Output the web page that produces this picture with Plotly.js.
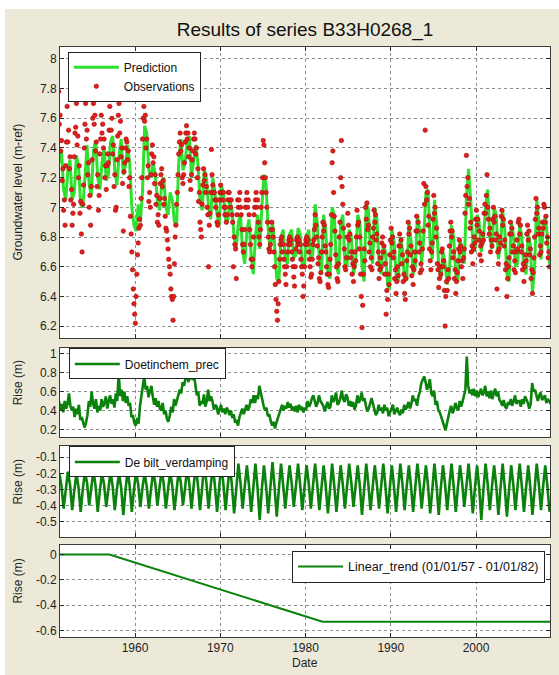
<!DOCTYPE html>
<html>
<head>
<meta charset="utf-8">
<script src="https://cdn.plot.ly/plotly-3.0.1.min.js"></script>
<style>
  html, body { margin: 0; padding: 0; background: #ffffff; }
  #chart { position: absolute; left: 5px; top: 9px; width: 554px; height: 666px; }
</style>
</head>
<body>
<div id="chart"></div>
<script>
// First calendar year of every series; rows below are one year each.
const firstYear = 1951;

// Modelled groundwater level (m-ref), four values per year (Feb, May, Aug, Nov).
const predictionLevels = [
  [7.30, 7.38, 7.12, 7.05], // 1951
  [7.25, 7.32, 7.05, 7.10],
  [7.35, 7.28, 7.02, 7.00],
  [7.20, 7.42, 7.15, 7.08],
  [7.38, 7.45, 7.20, 7.12],
  [7.30, 7.40, 7.18, 7.22],
  [7.44, 7.48, 7.25, 7.15],
  [7.35, 7.46, 7.22, 7.28],
  [7.42, 7.30, 7.00, 6.88],
  [6.84, 7.02, 6.90, 7.10], // 1960
  [7.55, 7.50, 7.25, 7.20],
  [7.30, 7.22, 7.05, 6.98],
  [7.15, 7.20, 7.00, 6.95],
  [7.10, 7.05, 6.90, 6.88],
  [7.30, 7.46, 7.25, 7.30],
  [7.45, 7.48, 7.20, 7.30],
  [7.42, 7.30, 7.05, 6.98],
  [7.25, 7.20, 7.00, 6.92],
  [7.20, 7.10, 6.95, 6.88],
  [7.15, 7.10, 6.92, 6.90], // 1970
  [7.05, 6.98, 6.80, 6.72],
  [6.90, 6.95, 6.70, 6.62],
  [6.85, 6.92, 6.68, 6.55],
  [6.80, 6.95, 6.72, 7.00],
  [7.22, 7.15, 6.85, 6.70],
  [6.90, 6.75, 6.52, 6.50],
  [6.80, 6.85, 6.65, 6.62],
  [6.82, 6.85, 6.66, 6.68],
  [6.86, 6.82, 6.62, 6.60],
  [6.80, 6.85, 6.64, 6.70], // 1980
  [7.02, 6.90, 6.65, 6.55],
  [6.95, 6.85, 6.55, 6.52],
  [7.00, 6.95, 6.60, 6.55],
  [6.90, 6.95, 6.62, 6.60],
  [6.85, 6.80, 6.55, 6.62],
  [6.95, 6.90, 6.60, 6.50],
  [7.03, 6.98, 6.70, 6.62],
  [7.00, 6.92, 6.62, 6.55],
  [6.75, 6.70, 6.48, 6.45],
  [6.85, 6.78, 6.55, 6.50], // 1990
  [6.80, 6.72, 6.50, 6.52],
  [6.90, 6.78, 6.55, 6.60],
  [6.95, 6.85, 6.62, 6.80],
  [7.10, 7.12, 6.75, 6.65],
  [7.05, 6.90, 6.60, 6.52],
  [6.70, 6.62, 6.48, 6.55],
  [6.88, 6.80, 6.55, 6.50],
  [6.78, 6.72, 6.62, 7.05],
  [7.26, 7.05, 6.75, 6.70],
  [6.95, 6.90, 6.70, 6.80], // 2000
  [7.00, 7.12, 6.80, 6.72],
  [7.00, 6.95, 6.65, 6.75],
  [6.98, 6.85, 6.55, 6.50],
  [6.90, 6.82, 6.60, 6.62],
  [6.88, 6.80, 6.58, 6.55],
  [6.82, 6.75, 6.42, 6.60],
  [7.05, 6.90, 6.65, 6.85],
  [6.95, 6.80, 6.62]        // 2008
];

// Measured groundwater level (m-ref), one reading per month.
const observedLevels = [
  [7.78, 7.56, 7.62, 7.38, 7.45, 7.18, 7.26, 6.98, 7.05, 6.88, 7.28, 7.44], // 1951
  [7.68, 7.44, 7.52, 7.26, 7.34, 7.05, 7.12, 6.88, 6.96, 7.02, 7.34, 7.50],
  [7.54, 7.70, 7.42, 7.48, 7.20, 7.28, 6.96, 7.04, 6.82, 6.70, 7.02, 7.15],
  [7.40, 7.56, 7.70, 7.46, 7.52, 7.22, 7.30, 7.00, 7.08, 6.88, 7.14, 7.32],
  [7.60, 7.70, 7.56, 7.62, 7.38, 7.44, 7.14, 7.22, 6.98, 7.08, 7.36, 7.46],
  [7.62, 7.50, 7.56, 7.40, 7.46, 7.20, 7.28, 7.12, 7.28, 7.36, 7.30, 7.52],
  [7.68, 7.74, 7.52, 7.60, 7.36, 7.42, 7.14, 7.22, 6.98, 7.00, 7.32, 7.48],
  [7.62, 7.70, 7.50, 7.58, 7.34, 7.40, 7.16, 6.84, 7.24, 7.30, 7.40, 7.46],
  [7.44, 7.32, 7.38, 7.14, 7.20, 6.94, 6.82, 6.70, 6.58, 6.45, 6.35, 6.28],
  [6.22, 6.40, 6.55, 6.68, 6.76, 6.86, 6.92, 6.88, 7.06, 7.20, 7.46, 7.60], // 1960
  [7.68, 7.58, 7.62, 7.40, 7.46, 7.20, 7.28, 7.04, 7.10, 7.00, 7.22, 7.36],
  [7.42, 7.30, 7.34, 7.16, 7.22, 7.02, 7.08, 6.90, 6.95, 6.88, 7.06, 7.16],
  [7.22, 7.26, 7.14, 7.18, 7.02, 7.06, 6.94, 6.86, 6.84, 6.78, 6.72, 6.65],
  [6.60, 6.55, 6.45, 6.40, 6.38, 6.24, 6.40, 6.62, 6.80, 6.88, 7.02, 7.10],
  [7.22, 7.36, 7.44, 7.50, 7.38, 7.42, 7.20, 7.16, 7.22, 7.30, 7.44, 7.50],
  [7.55, 7.46, 7.50, 7.34, 7.40, 7.18, 7.12, 7.22, 7.32, 7.38, 7.46, 7.50],
  [7.46, 7.36, 7.40, 7.20, 7.26, 7.04, 7.10, 6.90, 6.85, 6.80, 7.02, 7.15],
  [7.26, 7.18, 7.22, 7.10, 7.14, 7.00, 6.95, 6.60, 6.88, 6.96, 7.10, 7.39],
  [7.22, 7.15, 7.10, 7.10, 7.05, 7.00, 7.05, 6.90, 6.88, 6.95, 7.05, 7.10],
  [7.15, 7.10, 7.10, 7.05, 7.10, 7.00, 6.95, 7.00, 6.90, 6.95, 7.05, 7.10], // 1970
  [7.10, 7.05, 7.00, 7.05, 6.95, 6.90, 6.60, 6.80, 6.75, 6.72, 6.52, 6.95],
  [7.05, 7.00, 7.05, 7.10, 7.00, 6.95, 6.85, 6.75, 6.70, 6.75, 6.85, 7.00],
  [7.05, 7.10, 7.00, 7.05, 6.95, 6.85, 6.75, 6.65, 6.60, 6.65, 6.80, 6.95],
  [7.00, 7.05, 7.10, 7.00, 7.05, 6.90, 6.80, 6.75, 6.85, 7.00, 7.10, 7.20],
  [7.45, 7.42, 7.30, 7.20, 7.10, 7.00, 6.90, 6.80, 6.72, 6.70, 6.75, 6.85],
  [6.90, 6.85, 6.80, 6.70, 6.60, 6.48, 6.38, 6.30, 6.24, 6.35, 6.50, 6.65],
  [6.75, 6.78, 6.80, 6.70, 6.75, 6.65, 6.60, 6.55, 6.48, 6.60, 6.70, 6.75],
  [6.78, 6.80, 6.75, 6.78, 6.70, 6.65, 6.60, 6.53, 6.47, 6.60, 6.72, 6.78],
  [6.80, 6.75, 6.78, 6.70, 6.75, 6.65, 6.60, 6.55, 6.40, 6.47, 6.60, 6.75],
  [6.78, 6.80, 6.75, 6.78, 6.70, 6.65, 6.60, 6.53, 6.55, 6.65, 6.75, 6.78], // 1980
  [6.85, 6.95, 6.88, 6.80, 6.74, 6.62, 6.66, 6.52, 6.50, 6.56, 6.70, 6.80],
  [6.90, 6.84, 6.88, 6.74, 6.70, 6.60, 6.55, 6.48, 6.46, 6.55, 6.65, 6.75],
  [6.95, 7.30, 7.38, 7.10, 6.94, 6.84, 6.68, 6.60, 6.52, 6.50, 6.62, 6.80],
  [6.90, 7.20, 7.45, 7.14, 7.02, 6.86, 6.72, 6.60, 6.58, 6.66, 6.80, 6.96],
  [6.88, 6.78, 6.82, 6.66, 6.70, 6.55, 6.62, 6.50, 6.60, 6.70, 6.64, 6.80],
  [6.98, 6.88, 6.90, 6.72, 6.80, 6.55, 6.40, 6.19, 6.34, 6.55, 6.72, 6.64],
  [7.00, 6.92, 7.03, 6.85, 6.88, 6.70, 6.76, 6.60, 6.66, 6.58, 6.80, 6.86],
  [6.98, 6.90, 6.95, 6.78, 6.82, 6.62, 6.70, 6.52, 6.58, 6.66, 6.60, 6.76],
  [6.80, 6.70, 6.74, 6.55, 6.62, 6.28, 6.44, 6.38, 6.55, 6.48, 6.68, 6.78],
  [6.86, 6.76, 6.80, 6.66, 6.70, 6.52, 6.58, 6.42, 6.50, 6.60, 6.54, 6.74], // 1990
  [6.82, 6.74, 6.78, 6.62, 6.68, 6.50, 6.55, 6.42, 6.38, 6.52, 6.64, 6.70],
  [6.90, 6.82, 6.86, 6.68, 6.74, 6.54, 6.60, 6.48, 6.58, 6.70, 6.64, 6.84],
  [6.94, 6.84, 6.90, 6.70, 6.76, 6.56, 6.62, 6.58, 6.72, 6.84, 7.16, 7.02],
  [7.52, 7.14, 7.05, 7.10, 6.88, 6.94, 6.72, 6.64, 6.58, 6.70, 6.76, 6.92],
  [7.08, 6.96, 7.00, 6.80, 6.86, 6.62, 6.58, 6.46, 6.52, 6.60, 6.55, 6.70],
  [6.72, 6.60, 6.64, 6.44, 6.20, 6.40, 6.50, 6.44, 6.58, 6.52, 6.74, 6.84],
  [6.90, 6.80, 6.84, 6.66, 6.70, 6.52, 6.58, 6.42, 6.50, 6.56, 6.64, 6.72],
  [6.78, 6.70, 6.74, 6.60, 6.64, 6.52, 6.66, 6.72, 6.96, 7.08, 7.35, 7.14],
  [7.20, 7.02, 7.06, 6.86, 6.90, 6.70, 6.74, 6.62, 6.72, 6.80, 6.76, 6.92],
  [6.98, 6.88, 6.92, 6.78, 6.84, 6.68, 6.74, 6.64, 6.76, 6.82, 6.78, 6.96], // 2000
  [7.02, 6.96, 7.08, 7.22, 7.00, 6.92, 6.82, 6.86, 6.70, 6.78, 6.74, 6.92],
  [7.00, 6.90, 6.94, 6.78, 6.82, 6.45, 6.70, 6.62, 6.72, 6.80, 6.76, 6.94],
  [6.98, 6.88, 6.92, 6.74, 6.78, 6.58, 6.62, 6.40, 6.52, 6.60, 6.66, 6.82],
  [6.90, 6.82, 6.86, 6.70, 6.74, 6.58, 6.64, 6.56, 6.70, 6.78, 6.72, 6.90],
  [6.92, 6.82, 6.88, 6.70, 6.74, 6.58, 6.62, 6.50, 6.60, 6.68, 6.64, 6.82],
  [6.88, 6.78, 6.84, 6.68, 6.72, 6.52, 6.58, 6.42, 6.56, 6.66, 6.80, 6.92],
  [7.06, 6.96, 7.00, 6.82, 6.86, 6.68, 6.74, 6.70, 6.82, 6.90, 6.86, 7.02],
  [7.00, 6.90, 6.94, 6.76, 6.80, 6.66, 6.70, 6.60]                          // 2008
];

// Rise (m) caused by precipitation at Doetinchem, six values per year.
const precipRise = [
  [0.50, 0.40, 0.47, 0.38, 0.50, 0.42], [0.47, 0.58, 0.45, 0.40, 0.44, 0.33], // 1951-52
  [0.42, 0.36, 0.46, 0.30, 0.33, 0.26], [0.22, 0.27, 0.35, 0.50, 0.44, 0.60],
  [0.47, 0.42, 0.52, 0.38, 0.45, 0.40], [0.52, 0.44, 0.48, 0.55, 0.42, 0.50],
  [0.56, 0.47, 0.52, 0.43, 0.58, 0.50], [0.80, 0.55, 0.62, 0.50, 0.60, 0.48],
  [0.55, 0.45, 0.48, 0.33, 0.35, 0.27], [0.24, 0.32, 0.26, 0.45, 0.55, 0.66], // 1959-60
  [0.76, 0.62, 0.66, 0.54, 0.60, 0.66], [0.55, 0.46, 0.53, 0.44, 0.50, 0.42],
  [0.40, 0.48, 0.36, 0.40, 0.31, 0.28], [0.35, 0.44, 0.38, 0.52, 0.45, 0.50],
  [0.56, 0.62, 0.58, 0.70, 0.66, 0.76], [0.82, 0.70, 0.74, 0.86, 0.72, 0.78],
  [0.64, 0.56, 0.60, 0.45, 0.50, 0.47], [0.57, 0.44, 0.50, 0.62, 0.50, 0.55],
  [0.50, 0.41, 0.46, 0.44, 0.36, 0.40], [0.46, 0.38, 0.42, 0.36, 0.43, 0.40], // 1969-70
  [0.35, 0.40, 0.32, 0.36, 0.27, 0.30], [0.24, 0.33, 0.38, 0.42, 0.36, 0.40],
  [0.46, 0.40, 0.44, 0.52, 0.48, 0.56], [0.48, 0.56, 0.52, 0.66, 0.58, 0.50],
  [0.45, 0.40, 0.43, 0.34, 0.36, 0.29], [0.24, 0.28, 0.21, 0.27, 0.32, 0.37],
  [0.41, 0.46, 0.40, 0.45, 0.42, 0.49], [0.43, 0.47, 0.40, 0.44, 0.39, 0.45],
  [0.38, 0.46, 0.41, 0.44, 0.38, 0.42], [0.42, 0.50, 0.44, 0.47, 0.53, 0.56], // 1979-80
  [0.50, 0.44, 0.48, 0.56, 0.50, 0.47], [0.45, 0.39, 0.44, 0.49, 0.42, 0.44],
  [0.56, 0.49, 0.52, 0.59, 0.46, 0.48], [0.53, 0.61, 0.52, 0.49, 0.57, 0.54],
  [0.45, 0.50, 0.44, 0.49, 0.41, 0.45], [0.56, 0.48, 0.52, 0.59, 0.50, 0.53],
  [0.45, 0.39, 0.42, 0.49, 0.53, 0.47], [0.42, 0.35, 0.38, 0.46, 0.40, 0.43],
  [0.37, 0.46, 0.40, 0.43, 0.34, 0.38], [0.41, 0.46, 0.36, 0.40, 0.43, 0.38], // 1989-90
  [0.35, 0.41, 0.37, 0.46, 0.41, 0.44], [0.49, 0.42, 0.47, 0.56, 0.50, 0.52],
  [0.45, 0.55, 0.60, 0.69, 0.72, 0.76], [0.70, 0.62, 0.66, 0.73, 0.58, 0.55],
  [0.61, 0.46, 0.50, 0.40, 0.38, 0.34], [0.30, 0.24, 0.19, 0.27, 0.33, 0.40],
  [0.45, 0.37, 0.41, 0.48, 0.43, 0.40], [0.50, 0.44, 0.49, 0.56, 0.62, 0.97],
  [0.66, 0.58, 0.62, 0.56, 0.63, 0.55], [0.61, 0.54, 0.58, 0.63, 0.56, 0.59], // 1999-2000
  [0.66, 0.55, 0.60, 0.53, 0.61, 0.52], [0.58, 0.63, 0.55, 0.60, 0.51, 0.49],
  [0.45, 0.51, 0.44, 0.42, 0.49, 0.46], [0.52, 0.45, 0.50, 0.56, 0.47, 0.50],
  [0.50, 0.44, 0.52, 0.47, 0.55, 0.52], [0.48, 0.42, 0.47, 0.69, 0.60, 0.62],
  [0.55, 0.50, 0.56, 0.59, 0.51, 0.54], [0.56, 0.48, 0.52, 0.50, 0.47]        // 2007-08
];

// Rise (m) caused by evaporation at De Bilt, four values per year.
const evapRise = [
  [-0.20, -0.28, -0.42, -0.30], [-0.19, -0.27, -0.43, -0.31], [-0.20, -0.29, -0.44, -0.30], [-0.19, -0.26, -0.40, -0.29],
  [-0.18, -0.28, -0.44, -0.31], [-0.20, -0.27, -0.41, -0.30], [-0.19, -0.28, -0.43, -0.30], [-0.20, -0.29, -0.46, -0.31],
  [-0.18, -0.28, -0.44, -0.30], [-0.19, -0.27, -0.41, -0.29], [-0.20, -0.28, -0.42, -0.30], [-0.19, -0.26, -0.40, -0.29],
  [-0.18, -0.27, -0.42, -0.30], [-0.19, -0.28, -0.43, -0.31], [-0.18, -0.26, -0.40, -0.29], [-0.16, -0.27, -0.42, -0.28],
  [-0.15, -0.27, -0.43, -0.29], [-0.14, -0.26, -0.42, -0.28], [-0.15, -0.28, -0.44, -0.29], [-0.14, -0.27, -0.43, -0.28],
  [-0.15, -0.28, -0.45, -0.30], [-0.14, -0.26, -0.42, -0.28], [-0.15, -0.28, -0.44, -0.29], [-0.14, -0.29, -0.49, -0.30],
  [-0.15, -0.28, -0.45, -0.29], [-0.13, -0.29, -0.47, -0.30], [-0.14, -0.27, -0.42, -0.28], [-0.15, -0.26, -0.41, -0.28],
  [-0.14, -0.27, -0.43, -0.29], [-0.15, -0.26, -0.42, -0.28], [-0.14, -0.27, -0.43, -0.29], [-0.15, -0.28, -0.45, -0.30],
  [-0.14, -0.28, -0.44, -0.29], [-0.15, -0.27, -0.42, -0.28], [-0.14, -0.26, -0.41, -0.28], [-0.15, -0.28, -0.46, -0.30],
  [-0.14, -0.27, -0.43, -0.29], [-0.15, -0.27, -0.42, -0.28], [-0.14, -0.28, -0.45, -0.30], [-0.15, -0.28, -0.44, -0.29],
  [-0.14, -0.27, -0.43, -0.28], [-0.15, -0.28, -0.44, -0.29], [-0.14, -0.26, -0.42, -0.28], [-0.15, -0.28, -0.45, -0.30],
  [-0.14, -0.28, -0.46, -0.29], [-0.15, -0.27, -0.43, -0.28], [-0.14, -0.28, -0.44, -0.29], [-0.15, -0.26, -0.41, -0.28],
  [-0.14, -0.28, -0.45, -0.29], [-0.15, -0.29, -0.49, -0.30], [-0.14, -0.27, -0.43, -0.28], [-0.15, -0.28, -0.46, -0.29],
  [-0.14, -0.29, -0.47, -0.30], [-0.15, -0.27, -0.43, -0.28], [-0.14, -0.28, -0.44, -0.29], [-0.15, -0.29, -0.46, -0.30],
  [-0.14, -0.27, -0.43, -0.28], [-0.15, -0.28, -0.44]
];

// Linear trend: zero until 01/01/57, linear decline until 01/01/82, then constant.
const trendDates = [1951.0, 1957.0, 1982.0, 2008.7];
const trendRise  = [0, 0, -0.53, -0.53];

// Axis ticks and their labels.
const yearTicks = [1960, 1970, 1980, 1990, 2000];
const yearLabels = ['1960', '1970', '1980', '1990', '2000'];
const levelTicks = [6.2, 6.4, 6.6, 6.8, 7.0, 7.2, 7.4, 7.6, 7.8, 8.0];
const levelLabels = ['6.2', '6.4', '6.6', '6.8', '7', '7.2', '7.4', '7.6', '7.8', '8'];
const precipTicks = [0.2, 0.4, 0.6, 0.8, 1.0];
const precipLabels = ['0.2', '0.4', '0.6', '0.8', '1'];
const evapTicks = [-0.5, -0.4, -0.3, -0.2, -0.1];
const evapLabels = ['-0.5', '-0.4', '-0.3', '-0.2', '-0.1'];
const trendTicks = [-0.6, -0.4, -0.2, 0];
const trendLabels = ['-0.6', '-0.4', '-0.2', '0'];

// Turn per-year rows into decimal-year x values.
function spread(rows, perYear) {
  const x = [], y = [];
  rows.forEach((row, i) => row.forEach((v, k) => {
    x.push(firstYear + i + (k + 0.5) / perYear);
    y.push(v);
  }));
  return { x, y };
}

const pred = spread(predictionLevels, 4);
const obs = spread(observedLevels, 12);
const prec = spread(precipRise, 6);
const evap = spread(evapRise, 4);

const darkGreen = '#0b820b';
const fontFamily = 'Arial, "Liberation Sans", Helvetica, sans-serif';

const traces = [
  { x: pred.x, y: pred.y, name: 'Prediction', type: 'scatter', mode: 'lines',
    line: { color: '#2fe02f', width: 3 }, xaxis: 'x', yaxis: 'y', legend: 'legend' },
  { x: obs.x, y: obs.y, name: 'Observations', type: 'scatter', mode: 'markers',
    marker: { color: '#e0201c', size: 4.5, line: { color: '#a80c0c', width: 0.6 } },
    xaxis: 'x', yaxis: 'y', legend: 'legend' },
  { x: prec.x, y: prec.y, name: 'Doetinchem_prec', type: 'scatter', mode: 'lines',
    line: { color: darkGreen, width: 2.6 }, xaxis: 'x2', yaxis: 'y2', legend: 'legend2' },
  { x: evap.x, y: evap.y, name: 'De bilt_verdamping', type: 'scatter', mode: 'lines',
    line: { color: darkGreen, width: 2.6 }, xaxis: 'x3', yaxis: 'y3', legend: 'legend3' },
  { x: trendDates, y: trendRise, name: 'Linear_trend (01/01/57 - 01/01/82)', type: 'scatter', mode: 'lines',
    line: { color: darkGreen, width: 2 }, xaxis: 'x4', yaxis: 'y4', legend: 'legend4' }
];

function frame(extra) {
  return Object.assign({
    ticks: 'inside', ticklen: 4, tickcolor: '#2a2a2a', tickwidth: 1,
    showline: true, linecolor: '#3a3a3a', linewidth: 1, mirror: 'ticks',
    showgrid: true, gridcolor: '#8e8e8e', griddash: 'dot', gridwidth: 1,
    zeroline: false, fixedrange: true, tickmode: 'array',
    tickfont: { family: fontFamily, size: 12, color: '#1e1e1e' }
  }, extra);
}

function xAxis(anchor, labels) {
  return frame({ anchor: anchor, range: [1951.2, 2008.68], tickvals: yearTicks,
    ticktext: yearLabels, showticklabels: labels });
}

function legendBox(x, y, xanchor, size) {
  return { x: x, y: y, xanchor: xanchor, yanchor: 'top', xref: 'paper', yref: 'paper',
    bgcolor: '#ffffff', bordercolor: '#222222', borderwidth: 1,
    font: { family: fontFamily, size: size, color: '#111111' },
    itemwidth: 45, tracegroupgap: 0 };
}

function sideLabel(text, y) {
  return { text: text, xref: 'paper', yref: 'paper', x: -0.0857, y: y,
    textangle: -90, showarrow: false, xanchor: 'center', yanchor: 'middle',
    font: { family: fontFamily, size: 12, color: '#1e1e1e' } };
}

const layout = {
  width: 554, height: 666,
  margin: { l: 55, r: 9, t: 38, b: 38 },
  paper_bgcolor: '#ece9d8', plot_bgcolor: '#ffffff',
  showlegend: true,
  title: { text: 'Results of series B33H0268_1', x: 0.5, xref: 'paper', xanchor: 'center',
    y: 0.97, yref: 'container', yanchor: 'middle',
    font: { family: fontFamily, size: 19, color: '#111111' } },
  xaxis: xAxis('y', false),
  xaxis2: xAxis('y2', false),
  xaxis3: xAxis('y3', false),
  xaxis4: xAxis('y4', true),
  yaxis: frame({ anchor: 'x', domain: [0.5068, 1.0], range: [6.12, 8.08], tickvals: levelTicks, ticktext: levelLabels }),
  yaxis2: frame({ anchor: 'x2', domain: [0.339, 0.4898], range: [0.12, 1.06], tickvals: precipTicks, ticktext: precipLabels }),
  yaxis3: frame({ anchor: 'x3', domain: [0.1695, 0.3237], range: [-0.597, -0.03], tickvals: evapTicks, ticktext: evapLabels }),
  yaxis4: frame({ anchor: 'x4', domain: [0.0, 0.1559], range: [-0.65, 0.075], tickvals: trendTicks, ticktext: trendLabels }),
  legend: legendBox(0.016, 0.992, 'left', 12),
  legend2: legendBox(0.018, 0.489, 'left', 12),
  legend3: legendBox(0.018, 0.323, 'left', 12),
  legend4: legendBox(0.99, 0.146, 'right', 12.5),
  annotations: [
    sideLabel('Groundwater level (m-ref)', 0.7534),
    sideLabel('Rise (m)', 0.430),
    sideLabel('Rise (m)', 0.262),
    sideLabel('Rise (m)', 0.094),
    { text: 'Date', xref: 'paper', yref: 'paper', x: 0.5, y: -0.044,
      showarrow: false, xanchor: 'center', yanchor: 'middle',
      font: { family: fontFamily, size: 12, color: '#1e1e1e' } }
  ]
};

Plotly.newPlot('chart', traces, layout, { staticPlot: true, displayModeBar: false });
</script>
</body>
</html>
